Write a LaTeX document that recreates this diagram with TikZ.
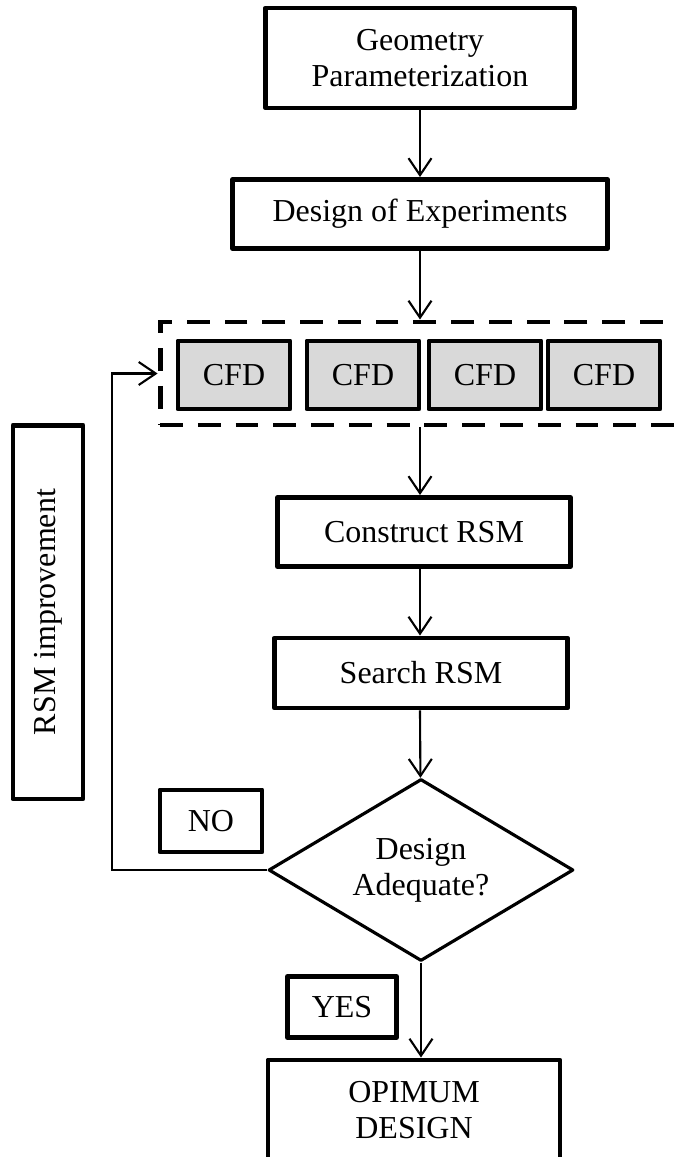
\documentclass[tikz,border=0pt]{standalone}
\usepackage{fontspec}
\setmainfont{Liberation Serif}
\usepackage{tikz}
\usetikzlibrary{shapes.geometric,arrows.meta}

\begin{document}
\begin{tikzpicture}[x=0.02cm, y=-0.02cm,
    box/.style={draw, line width=2.8pt, line join=round, align=center, inner sep=0pt,
      font=\fontsize{18.2}{20.5}\selectfont},
    cfd/.style={box, fill=black!15, minimum width=2.24cm, minimum height=1.36cm},
    arr/.style={draw, line width=1.2pt, -{Straight Barb[length=3.4mm, width=4.6mm, line width=1.2pt]}}]
    \useasboundingbox (0,0) rectangle (674,1157);

    \node[box, minimum width=6.18cm, minimum height=2cm] (geometry) at (420,58) {Geometry\\Parameterization};
    \node[box, minimum width=7.5cm, minimum height=1.38cm] (doe) at (420,214) {Design of Experiments};

    \node[draw, line width=2.8pt, dash pattern=on 13pt off 8.5pt, minimum width=10.8cm, minimum height=2.06cm] (group) at (430,373.5) {};
    \node[cfd] (cfdone) at (234,375) {CFD};
    \node[cfd] (cfdtwo) at (363,375) {CFD};
    \node[cfd] (cfdthree) at (485,375) {CFD};
    \node[cfd] (cfdfour) at (604,375) {CFD};

    \node[box, minimum width=5.86cm, minimum height=1.38cm] (construct) at (424,532) {Construct RSM};
    \node[box, minimum width=5.86cm, minimum height=1.4cm] (search) at (421,673) {Search RSM};
    \node[box, diamond, aspect=1.67, line width=1.8pt, minimum width=6.1cm, minimum height=3.64cm] (adequate) at (421,870) {Design\\Adequate?};
    \node[box, minimum width=5.84cm, minimum height=2cm] (optimum) at (414,1110) {OPIMUM\\DESIGN};

    \node[box, minimum width=2.04cm, minimum height=1.24cm] (no) at (211,821) {NO};
    \node[box, minimum width=2.18cm, minimum height=1.22cm] (yes) at (342,1007) {YES};
    \node[box, rotate=90, minimum width=7.48cm, minimum height=1.4cm] (rsm) at (48,612) {RSM improvement};

    \draw[arr] (geometry) -- (doe);
    \draw[arr] (doe) -- (doe |- group.north);
    \draw[arr] (doe |- group.south) -- (doe |- construct.north);
    \draw[arr] (doe |- construct.south) -- (doe |- search.north);
    \draw[arr] (doe |- search.south) -- (adequate);
    \draw[arr] (adequate) -- (adequate |- optimum.north);
    \draw[arr] (adequate.west) -- ++(-155,0) |- (group.west);
  \end{tikzpicture}
\end{document}
